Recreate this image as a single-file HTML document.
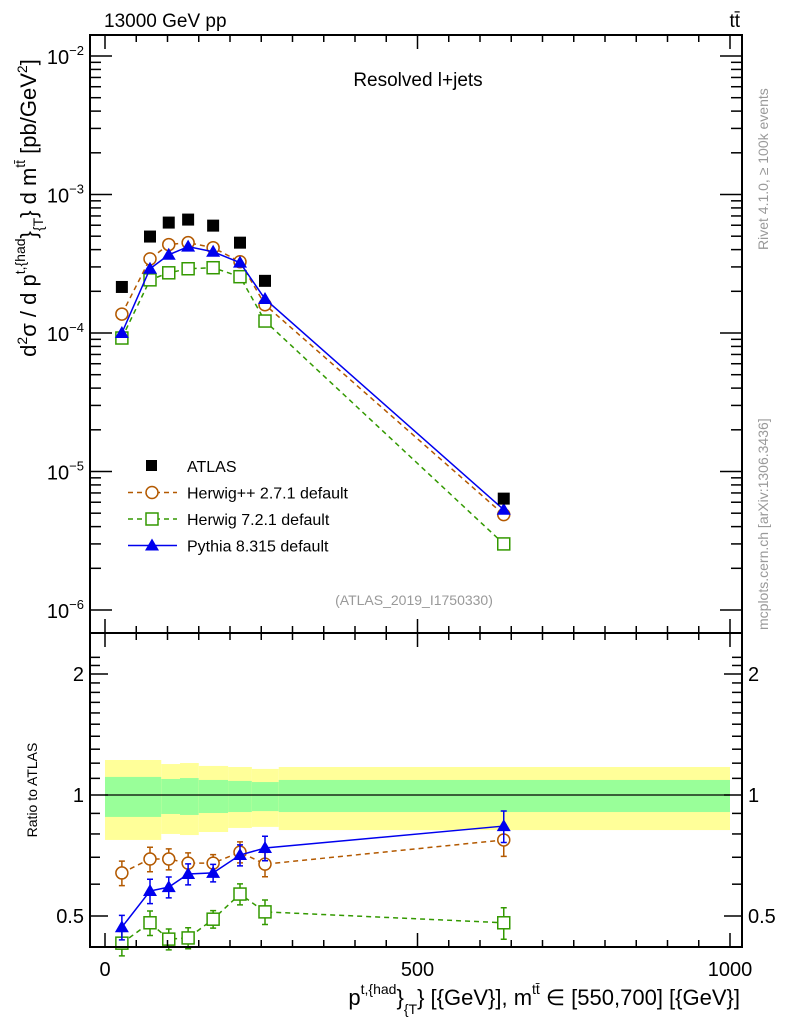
<!DOCTYPE html>
<html><head><meta charset="utf-8"><style>
body{margin:0;background:#fff}
svg{display:block;font-family:"Liberation Sans",sans-serif}
</style></head><body>
<svg id="c" width="786" height="1024" viewBox="0 0 786 1024">
<g id="bands"></g>
<g id="plot"></g>
<rect x="90" y="35" width="652" height="598" fill="none" stroke="#000" stroke-width="2"/>
<rect x="90" y="633" width="652" height="314" fill="none" stroke="#000" stroke-width="2"/>
<g id="axes"></g>
<text x="104" y="27" font-size="19">13000 GeV pp</text>
<text x="740" y="27" font-size="19" text-anchor="end">tt̄</text>
<text x="418" y="86" font-size="19" text-anchor="middle">Resolved l+jets</text>
<text x="414" y="605" font-size="14" fill="#999" text-anchor="middle">(ATLAS_2019_I1750330)</text>
<text transform="translate(768,250) rotate(-90)" font-size="14" fill="#999">Rivet 4.1.0, ≥ 100k events</text>
<text transform="translate(768,630) rotate(-90)" font-size="14" fill="#999">mcplots.cern.ch [arXiv:1306.3436]</text>
<text transform="translate(36,208) rotate(-90)" font-size="22" text-anchor="middle">d<tspan font-size="14" dy="-9">2</tspan><tspan dy="9">σ / d p</tspan><tspan font-size="14" dy="-11">t,{had</tspan><tspan dy="11">}</tspan><tspan font-size="14" dy="7">{T</tspan><tspan dy="-7">} d m</tspan><tspan font-size="14" dy="-11">tt̄</tspan><tspan dy="11"> [pb/GeV</tspan><tspan font-size="14" dy="-9">2</tspan><tspan dy="9">]</tspan></text>
<text transform="translate(37,790) rotate(-90)" font-size="14" text-anchor="middle">Ratio to ATLAS</text>
<text x="740" y="1005" font-size="22" text-anchor="end">p<tspan font-size="14" dy="-11">t,{had</tspan><tspan dy="11">}</tspan><tspan font-size="14" dy="9">{T</tspan><tspan dy="-9">} [{GeV}], m</tspan><tspan font-size="14" dy="-11">tt̄</tspan><tspan dy="11"> ∈ [550,700] [{GeV}]</tspan></text>
<g id="legend"></g>
</svg>
<script>
const xs=[27,72,102,133,173,216,256,638];
const atlas=[2.15e-4,4.97e-4,6.27e-4,6.59e-4,5.96e-4,4.49e-4,2.38e-4,6.37e-6];
const herwigpp=[1.37e-4,3.43e-4,4.35e-4,4.49e-4,4.13e-4,3.27e-4,1.60e-4,4.88e-6];
const herwig7=[9.2e-5,2.42e-4,2.72e-4,2.91e-4,2.96e-4,2.55e-4,1.22e-4,3.0e-6];
const pythia=[1.0e-4,2.91e-4,3.67e-4,4.2e-4,3.86e-4,3.22e-4,1.76e-4,5.3e-6];
const rHpp=[0.64,0.693,0.693,0.677,0.677,0.721,0.673,0.773];
const rH7=[0.428,0.481,0.438,0.441,0.491,0.567,0.512,0.481];
const rPy=[0.469,0.577,0.590,0.636,0.640,0.709,0.738,0.837];
const rRelErr=[0.07,0.07,0.06,0.06,0.05,0.06,0.07,0.09];
const binEdges=[0,90,120,150,197,235,278,1000];
const yelUp=[1.222,1.194,1.201,1.181,1.174,1.161,1.174];
const yelDn=[0.773,0.800,0.795,0.809,0.828,0.833,0.818];
const grnUp=[1.109,1.096,1.102,1.090,1.084,1.077,1.090];
const grnDn=[0.882,0.897,0.892,0.902,0.907,0.912,0.907];
const xTicks=[0,500,1000];
const yTicks=[-6,-5,-4,-3,-2];
const rTicks=[0.5,1,2];

const NS="http://www.w3.org/2000/svg";
const X=v=>105+v*0.625;
const Y=v=>56+(-2-Math.log10(v))*138.5;
const R=v=>795-Math.log10(v)*402;
function mk(tag,attrs,parent){const e=document.createElementNS(NS,tag);for(const k in attrs)e.setAttribute(k,attrs[k]);parent.appendChild(e);return e;}
const plot=document.getElementById('plot'),bands=document.getElementById('bands'),axes=document.getElementById('axes'),leg=document.getElementById('legend');

for(let i=0;i<yelUp.length;i++){
  const x0=X(binEdges[i]),x1=X(binEdges[i+1]);
  let e=mk('rect',{x:x0,y:R(yelUp[i]),width:x1-x0,height:R(yelDn[i])-R(yelUp[i]),fill:'#ffff99'},bands);
  
  
  e=mk('rect',{x:x0,y:R(grnUp[i]),width:x1-x0,height:R(grnDn[i])-R(grnUp[i]),fill:'#99ff99'},bands);
  
  
}
let ln=mk('line',{x1:X(0),x2:X(1000),y1:R(1),y2:R(1),stroke:'#000','stroke-width':1.3},bands);



function marker(type,x,y,col,g){
  let e;
  if(type==='sq') e=mk('rect',{x:x-6,y:y-6,width:12,height:12,fill:'#000'},g);
  else if(type==='circ') e=mk('circle',{cx:x,cy:y,r:6,fill:'#fff',stroke:col,'stroke-width':1.5},g);
  else if(type==='osq') e=mk('rect',{x:x-6,y:y-6,width:12,height:12,fill:'#fff',stroke:col,'stroke-width':1.5},g);
  else e=mk('polygon',{points:`${x},${y-7} ${x-7},${y+5} ${x+7},${y+5}`,fill:col},g);
  
  
}
function series(name,xsA,vals,f,col,dash,type,err){
  const g=mk('g',{},plot);
  
  
  if(col){
    const p=mk('polyline',{points:xsA.map((x,i)=>X(x)+','+f(vals[i])).join(' '),fill:'none',stroke:col,'stroke-width':1.5,'stroke-dasharray':dash||''},g);
    
    
  }
  xsA.forEach((x,i)=>{
    if(err){
      const y1=f(vals[i]*(1+err[i])),y2=f(vals[i]*(1-err[i]));
      const e=mk('path',{d:`M${X(x)},${y1}V${y2}M${X(x)-3},${y1}h6M${X(x)-3},${y2}h6`,stroke:col,'stroke-width':1.5,fill:'none'},g);
      
      
    }
    marker(type,X(x),f(vals[i]),col,g);
  });
}
series('herwigpp-series',xs,herwigpp,Y,'#b35900','5,4','circ');
series('herwig7-series',xs,herwig7,Y,'#339900','5,4','osq');
series('pythia-series',xs,pythia,Y,'#0000ee','','tri');
series('atlas-series',xs,atlas,Y,null,'','sq');
series('herwigpp-ratio',xs,rHpp,R,'#b35900','5,4','circ',rRelErr);
series('herwig7-ratio',xs,rH7,R,'#339900','5,4','osq',rRelErr);
series('pythia-ratio',xs,rPy,R,'#0000ee','','tri',rRelErr);

function tick(x1,y1,x2,y2){mk('line',{x1,y1,x2,y2,stroke:'#000','stroke-width':1.5},axes);}
for(let v=0;v<=1000;v+=50){const x=X(v),L=v%500===0?14:7;tick(x,633,x,633-L);tick(x,35,x,35+L);tick(x,947,x,947-L);tick(x,633,x,633+L);}
yTicks.forEach(d=>{
  for(let m=1;m<10;m++){const y=Y(m*Math.pow(10,d));if(y<35||y>633)continue;const L=m===1?22:11;tick(90,y,90+L,y);tick(742,y,742-L,y);}
  const t=mk('text',{x:84,y:Y(Math.pow(10,d))+8,'font-size':20,'text-anchor':'end'},axes);
  t.innerHTML='10<tspan font-size="13" dy="-9">'+(d<0?'−':'')+Math.abs(d)+'</tspan>';
  
  
});
for(let v=0.4;v<=2.3;v+=0.1){const y=R(v);if(y<633||y>947)continue;const maj=[0.5,1,2].some(m=>Math.abs(m-v)<1e-6);const L=maj?18:10;tick(90,y,90+L,y);tick(742,y,742-L,y);}
rTicks.forEach(v=>{
  let t=mk('text',{x:84,y:R(v)+7,'font-size':20,'text-anchor':'end'},axes);t.textContent=v;
  
  
  t=mk('text',{x:748,y:R(v)+7,'font-size':20},axes);t.textContent=v;
  
  
});
xTicks.forEach(v=>{
  const t=mk('text',{x:X(v),y:976,'font-size':20,'text-anchor':'middle'},axes);t.textContent=v;
  
  
});

const legNames=['ATLAS','Herwig++ 2.7.1 default','Herwig 7.2.1 default','Pythia 8.315 default'];
const legCols=[null,'#b35900','#339900','#0000ee'];
const legTypes=['sq','circ','osq','tri'];
const legDash=['','5,4','5,4',''];
legNames.forEach((n,i)=>{
  const y=466+i*26.5;
  const g=mk('g',{},leg);
  
  
  if(legCols[i]) mk('line',{x1:128,x2:177,y1:y,y2:y,stroke:legCols[i],'stroke-width':1.5,'stroke-dasharray':legDash[i]},g);
  if(i===0) mk('rect',{x:146,y:y-6,width:11,height:11,fill:'#000'},g); else marker(legTypes[i],152,y,legCols[i],g);
  const t=mk('text',{x:187,y:y+6,'font-size':16},g);t.textContent=n;
});
</script>
</body></html>
